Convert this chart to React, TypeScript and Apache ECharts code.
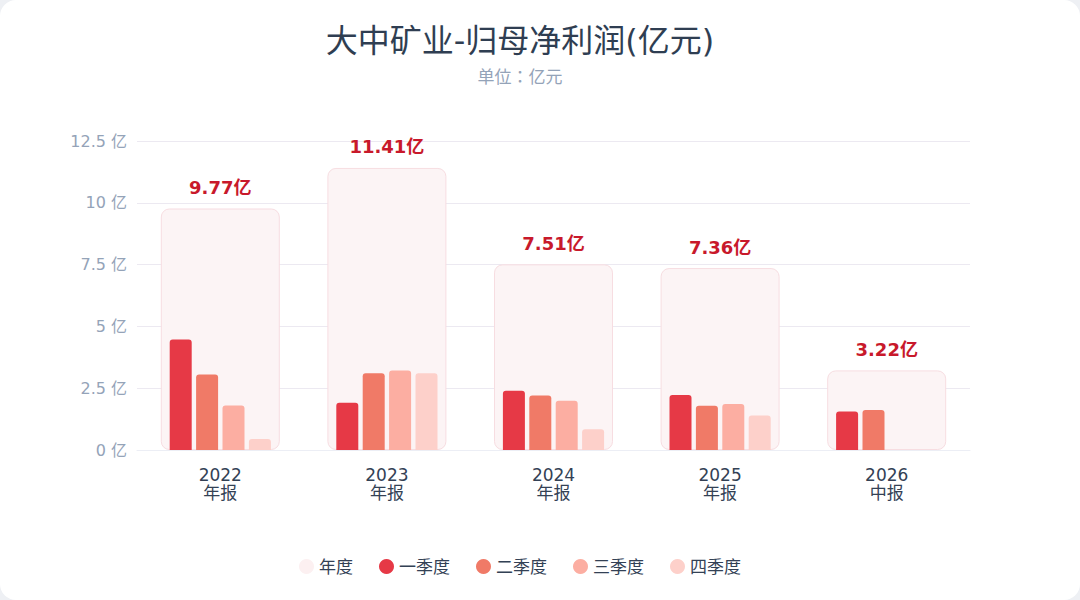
import React, { useEffect, useRef } from "react";
import * as echarts from "echarts";

const categories = ["2022\n年报", "2023\n年报", "2024\n年报", "2025\n年报", "2026\n中报"];
const annual = [9.77, 11.41, 7.51, 7.36, 3.22];
const q1 = [4.47, 1.91, 2.4, 2.22, 1.56];
const q2 = [3.05, 3.1, 2.2, 1.79, 1.62];
const q3 = [1.8, 3.22, 1.99, 1.86, null];
const q4 = [0.45, 3.1, 0.84, 1.4, null];
const yTicks = [0, 2.5, 5, 7.5, 10, 12.5];

const FONT = "'DejaVu Sans', 'Noto Sans CJK SC', sans-serif";
const qColors = ["#e63946", "#f07a67", "#fcaea2", "#fdd0ca"];

export default function App() {
  const ref = useRef<HTMLDivElement>(null);
  useEffect(() => {
    document.body.style.margin = "0";
    document.body.style.background = "#eef0f4";
    if (!ref.current) return;
    const chart = echarts.init(ref.current, null, { renderer: "svg" });
    const qSeries = [q1, q2, q3, q4].map((d, i) => ({
      name: ["一季度", "二季度", "三季度", "四季度"][i],
      type: "bar",
      xAxisIndex: 0,
      data: d,
      barWidth: 22,
      barGap: "20%",
      itemStyle: { color: qColors[i], borderRadius: [3, 3, 0, 0] },
      z: 3,
    }));
    chart.setOption({
      animation: false,
      textStyle: { fontFamily: FONT },
      title: {
        text: "大中矿业-归母净利润(亿元)",
        subtext: "单位：亿元",
        left: "center",
        top: 20,
        itemGap: 10,
        textStyle: { fontSize: 32, fontWeight: "normal", color: "#2f3e52", fontFamily: FONT },
        subtextStyle: { fontSize: 17, color: "#94a3b8", fontFamily: "'Noto Sans CJK JP', sans-serif" },
      },
      legend: {
        bottom: 20,
        left: "center",
        icon: "circle",
        itemWidth: 15,
        itemHeight: 15,
        itemGap: 26,
        textStyle: { fontSize: 17, color: "#334155", fontFamily: FONT },
        data: [
          { name: "年度", itemStyle: { color: "#fcf0f1", borderWidth: 0 } },
          "一季度",
          "二季度",
          "三季度",
          "四季度",
        ],
      },
      grid: { left: 137, right: 70, top: 141, bottom: 150 },
      xAxis: [
        {
          type: "category",
          data: categories,
          axisTick: { show: false },
          axisLine: { lineStyle: { color: "#eceef5" } },
          axisLabel: { fontSize: 17, color: "#334155", lineHeight: 18, margin: 16, fontFamily: FONT },
        },
        {
          type: "category",
          data: categories,
          show: false,
        },
      ],
      yAxis: {
        type: "value",
        min: yTicks[0],
        max: yTicks[yTicks.length - 1],
        interval: 2.5,
        axisLine: { show: false },
        axisTick: { show: false },
        splitLine: { lineStyle: { color: "#ece9f1" } },
        axisLabel: {
          fontSize: 16,
          color: "#94a3b8",
          margin: 10,
          fontFamily: FONT,
          formatter: (v: number) => `${v} 亿`,
        },
      },
      series: [
        {
          name: "年度",
          type: "bar",
          xAxisIndex: 1,
          data: annual,
          barWidth: 119,
          itemStyle: {
            color: "#fcf4f5",
            borderColor: "#f7dde1",
            borderWidth: 1,
            borderRadius: 8,
          },
          label: {
            show: true,
            position: "top",
            distance: 12,
            formatter: (p: any) => `${p.value}亿`,
            fontSize: 18,
            fontWeight: "bold",
            color: "#c8192b",
            fontFamily: FONT,
          },
          z: 1,
        },
        ...qSeries,
      ],
    });
    return () => chart.dispose();
  }, []);
  return (
    <div style={{ width: 1080, height: 600, background: "#fff", borderRadius: 16, overflow: "hidden" }}>
      <div ref={ref} style={{ width: 1040, height: 600 }} />
    </div>
  );
}
